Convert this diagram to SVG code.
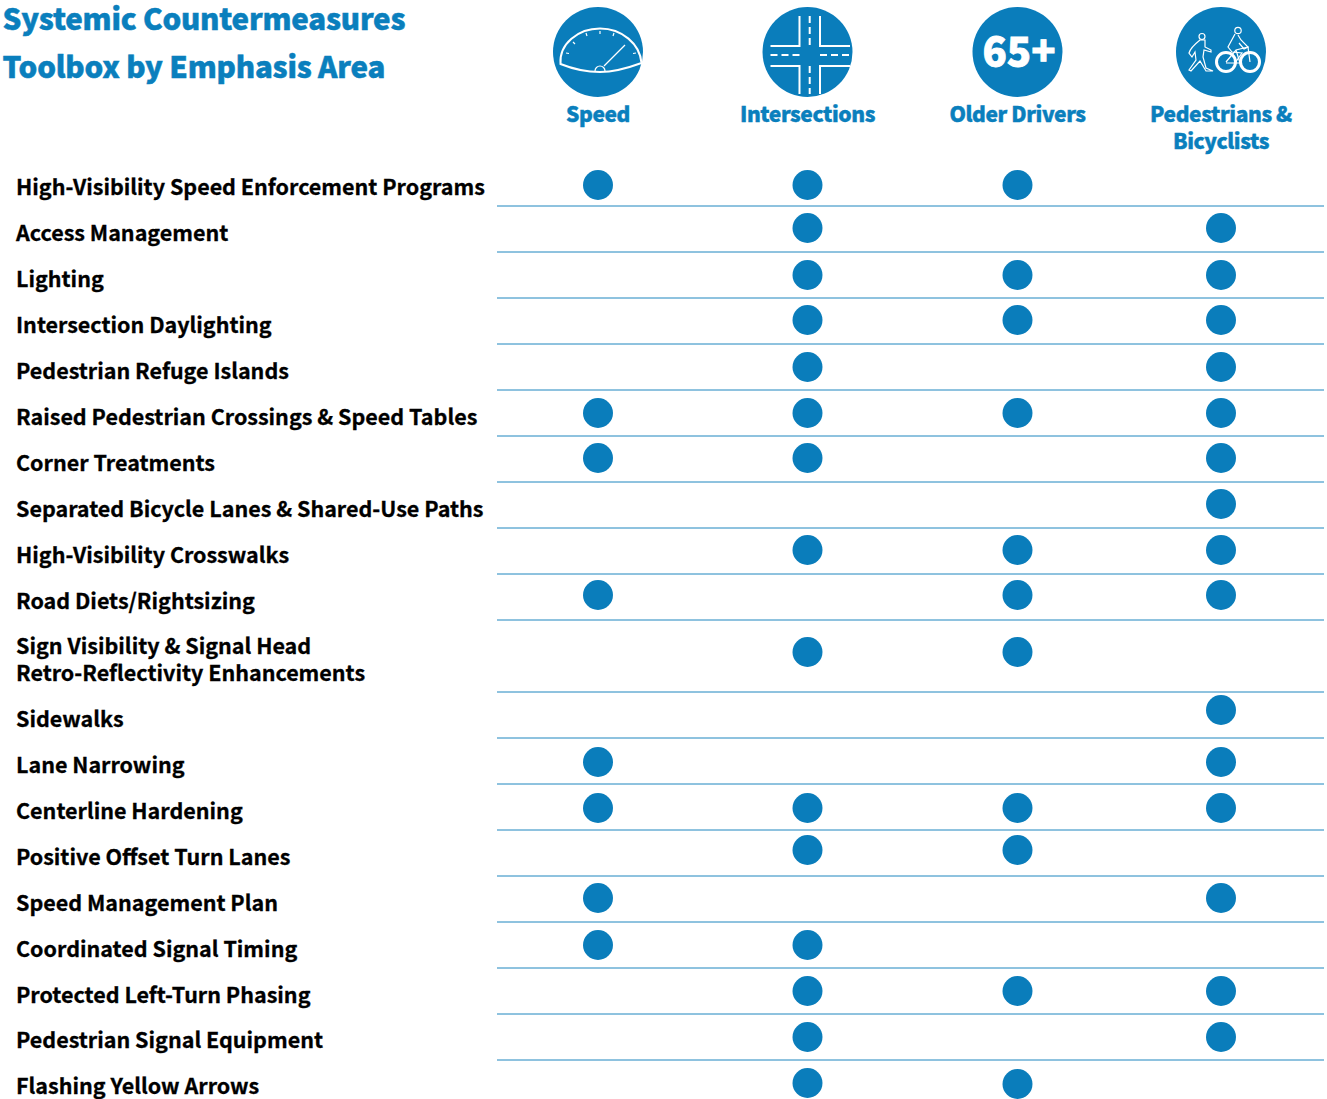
<svg xmlns="http://www.w3.org/2000/svg" width="1327" height="1099" viewBox="0 0 1327 1099">
<style>
text{font-family:"Noto Sans CJK SC","Noto Sans",sans-serif}
.t{font-size:29.500px;font-weight:900;fill:#0a7fbd;letter-spacing:-.2px;stroke:#0a7fbd;stroke-width:.5px}
.h{font-size:21px;font-weight:900;fill:#0a7fbd;text-anchor:middle;letter-spacing:-.4px;stroke:#0a7fbd;stroke-width:.4px}
.l{font-size:21.500px;font-weight:700;fill:#000;stroke:#000;stroke-width:.3px}
.r{stroke:#1f86bf;stroke-width:1;fill:none}
.b{fill:#0a7dbb}
.w{stroke:#fff;fill:none;stroke-width:2}
.w1{stroke:#fff;fill:none;stroke-width:1.200}
</style>
<rect width="1327" height="1099" fill="#fff"/>
<g id="title"><text class="t" x="2.500" y="30">Systemic Countermeasures</text><text class="t" x="2.500" y="78">Toolbox by Emphasis Area</text></g>
<g id="col-speed"><circle class="b" cx="598" cy="52" r="45"/>
<path class="w" d="M560.500 64C559 44 578 28.500 600 28.500C622 28.500 640 44 641.500 63C628 68 614 72 600 72C586 72 573 69 560.500 64Z"/>
<path class="w1" d="M600 31v3M573 42l2 2M586 33l1 3M614 33l-1 3M566 53l3 .5M636 53l-3 .5"/>
<path class="w1" d="M604 66L625 45"/><path class="w1" d="M595 71a5 5 0 0 1 10 0"/>
<text class="h" x="598" y="122">Speed</text></g>
<g id="col-intersections"><circle class="b" cx="807.500" cy="52" r="45"/>
<path class="w" d="M799.500 16V46H770.500M820 16V46H850M770.500 66H799.500V94M850 66H820V94"/>
<path class="w" stroke-dasharray="7 4" d="M809.700 16V46M809.700 66V94M770.500 55H800M820 55H850"/>
<text class="h" x="807.500" y="122">Intersections</text></g>
<g id="col-older"><circle class="b" cx="1017.500" cy="52" r="45"/>
<text x="1019" y="66" text-anchor="middle" style="font-size:40px;font-weight:900;fill:#fff;stroke:#fff;stroke-width:.8px">65+</text>
<text class="h" x="1017.500" y="122">Older Drivers</text></g>
<g id="col-ped"><circle class="b" cx="1221" cy="52" r="45"/>
<g class="w1"><circle cx="1202" cy="36.500" r="3"/><path d="M1200 40C1195 44 1190 49 1189 53L1192 57L1195 52L1196 60L1189 70L1191 71L1200 61L1206 71H1213L1206 68L1203 57L1204 50L1211 52V50L1205 47L1205 40Z"/>
<circle cx="1238" cy="30.500" r="3.200"/><path d="M1235 34L1228 47L1232 52L1242 53L1235 63M1238 35L1241 40L1248 47L1244 49L1239 43"/></g>
<circle class="w" cx="1226" cy="62" r="9.500" style="stroke-width:3"/><circle class="w" cx="1250" cy="62" r="9.500" style="stroke-width:3"/>
<path class="w1" d="M1226 62L1236 50L1248 47L1250 62M1236 50L1240 63H1226"/>
<text class="h" x="1221" y="122">Pedestrians &amp;</text><text class="h" x="1221" y="149">Bicyclists</text></g>
<g id="rules" class="r"><path d="M497 206H1324M497 252H1324M497 298H1324M497 344H1324M497 390H1324M497 436H1324M497 482H1324M497 528H1324M497 574H1324M497 620H1324M497 692H1324M497 738H1324M497 784H1324M497 830H1324M497 876H1324M497 922H1324M497 968H1324M497 1014H1324M497 1060H1324"/></g>
<g id="labels" transform="translate(0 -.7)">
<text class="l" x="16" y="196">High-Visibility Speed Enforcement Programs</text>
<text class="l" x="16" y="242">Access Management</text>
<text class="l" x="16" y="288">Lighting</text>
<text class="l" x="16" y="334">Intersection Daylighting</text>
<text class="l" x="16" y="380">Pedestrian Refuge Islands</text>
<text class="l" x="16" y="426">Raised Pedestrian Crossings &amp; Speed Tables</text>
<text class="l" x="16" y="472">Corner Treatments</text>
<text class="l" x="16" y="518">Separated Bicycle Lanes &amp; Shared-Use Paths</text>
<text class="l" x="16" y="564">High-Visibility Crosswalks</text>
<text class="l" x="16" y="610">Road Diets/Rightsizing</text>
<text class="l" x="16" y="655">Sign Visibility &amp; Signal Head</text>
<text class="l" x="16" y="682">Retro-Reflectivity Enhancements</text>
<text class="l" x="16" y="728">Sidewalks</text>
<text class="l" x="16" y="774">Lane Narrowing</text>
<text class="l" x="16" y="820">Centerline Hardening</text>
<text class="l" x="16" y="866">Positive Offset Turn Lanes</text>
<text class="l" x="16" y="912">Speed Management Plan</text>
<text class="l" x="16" y="958">Coordinated Signal Timing</text>
<text class="l" x="16" y="1004">Protected Left-Turn Phasing</text>
<text class="l" x="16" y="1049">Pedestrian Signal Equipment</text>
<text class="l" x="16" y="1095">Flashing Yellow Arrows</text>
</g>
<defs><circle id="d" r="15" class="b"/></defs>
<g id="dots">
<use href="#d" x="598" y="185"/><use href="#d" x="807.500" y="185"/><use href="#d" x="1017.500" y="185"/>
<use href="#d" x="807.500" y="228"/><use href="#d" x="1221" y="228"/>
<use href="#d" x="807.500" y="275"/><use href="#d" x="1017.500" y="275"/><use href="#d" x="1221" y="275"/>
<use href="#d" x="807.500" y="320"/><use href="#d" x="1017.500" y="320"/><use href="#d" x="1221" y="320"/>
<use href="#d" x="807.500" y="367"/><use href="#d" x="1221" y="367"/>
<use href="#d" x="598" y="413"/><use href="#d" x="807.500" y="413"/><use href="#d" x="1017.500" y="413"/><use href="#d" x="1221" y="413"/>
<use href="#d" x="598" y="458"/><use href="#d" x="807.500" y="458"/><use href="#d" x="1221" y="458"/>
<use href="#d" x="1221" y="504"/>
<use href="#d" x="807.500" y="550"/><use href="#d" x="1017.500" y="550"/><use href="#d" x="1221" y="550"/>
<use href="#d" x="598" y="595"/><use href="#d" x="1017.500" y="595"/><use href="#d" x="1221" y="595"/>
<use href="#d" x="807.500" y="652"/><use href="#d" x="1017.500" y="652"/>
<use href="#d" x="1221" y="710"/>
<use href="#d" x="598" y="762"/><use href="#d" x="1221" y="762"/>
<use href="#d" x="598" y="808"/><use href="#d" x="807.500" y="808"/><use href="#d" x="1017.500" y="808"/><use href="#d" x="1221" y="808"/>
<use href="#d" x="807.500" y="850"/><use href="#d" x="1017.500" y="850"/>
<use href="#d" x="598" y="898"/><use href="#d" x="1221" y="898"/>
<use href="#d" x="598" y="945"/><use href="#d" x="807.500" y="945"/>
<use href="#d" x="807.500" y="991"/><use href="#d" x="1017.500" y="991"/><use href="#d" x="1221" y="991"/>
<use href="#d" x="807.500" y="1037"/><use href="#d" x="1221" y="1037"/>
<use href="#d" x="807.500" y="1083"/><use href="#d" x="1017.500" y="1084"/>
</g>
</svg>
